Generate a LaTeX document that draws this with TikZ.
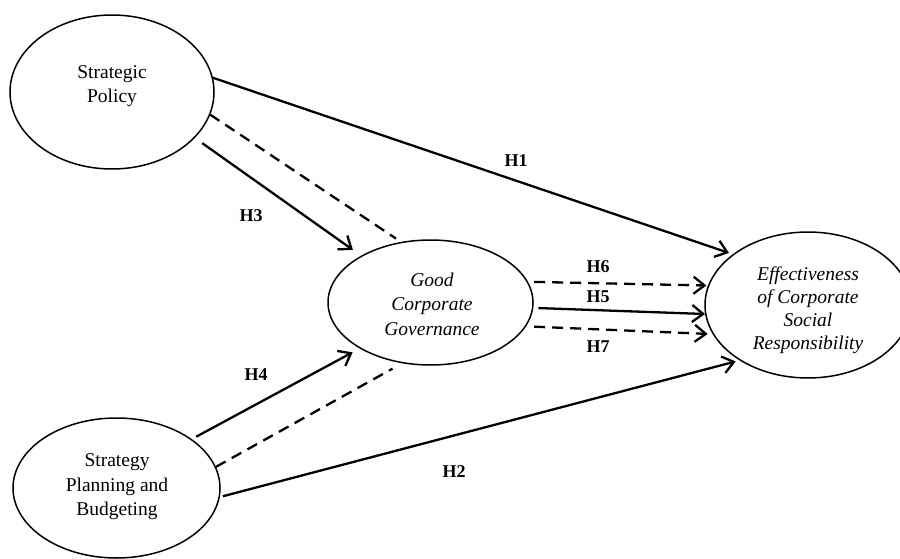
\documentclass[tikz,border=0pt]{standalone}
\usepackage{fontspec}
\setmainfont{Liberation Serif}
\usetikzlibrary{shapes.geometric,arrows.meta}
\begin{document}
\begin{tikzpicture}[x=1pt,y=-1pt,
  latent/.style={draw, ellipse, line width=1.5pt, inner sep=0pt},
  ltext/.style={align=center, font=\fontsize{19.5}{24.5}\selectfont, inner sep=0pt},
  itext/.style={align=center, font=\fontsize{19.5}{24.5}\selectfont\itshape, inner sep=0pt},
  hlabel/.style={font=\fontsize{18}{20}\selectfont\bfseries, inner sep=0pt},
  link/.style={line width=2.3pt},
  arrowlink/.style={link, -{Straight Barb[length=11pt,width=17pt]}},
  dlink/.style={link, dash pattern=on 11pt off 7pt},
]
\clip (0,0) rectangle (900,559);
% latent constructs
\node[latent, minimum width=204pt, minimum height=154pt] (sp) at (112,92) {};
\node[latent, minimum width=207pt, minimum height=140pt] (spb) at (116.5,488) {};
\node[latent, minimum width=205pt, minimum height=125pt] (gcg) at (430.5,302.5) {};
\node[latent, minimum width=206pt, minimum height=146pt] (ec) at (808,305) {};
% texts
\node[ltext] (sptext) at (112,86) {Strategic\\Policy};
\node[ltext] (spbtext) at (117,487) {Strategy\\Planning and\\Budgeting};
\node[itext] (gcgtext) at (432,304) {Good\\Corporate\\Governance};
\node[itext, font=\fontsize{19.5}{23}\selectfont\itshape] (ectext) at (808,310) {Effectiveness\\of Corporate\\Social\\Responsibility};
% connectors
\draw[arrowlink, shorten >=4pt] (sp.8) -- (ec.146);
\draw[dlink, shorten >=6pt] (sp.-13) -- (gcg.116);
\draw[arrowlink, shorten <=9pt, shorten >=10pt] (sp.-29) -- (gcg.146);
\draw[arrowlink, shorten <=5pt, shorten >=8pt] (spb.33) -- (gcg.213);
\draw[dlink, shorten >=11pt] (spb.12) -- (gcg.245);
\draw[arrowlink, shorten <=3pt, shorten >=4pt] (spb.-5) -- (ec.219);
\draw[arrowlink, dlink, shorten <=6pt, shorten >=1.5pt] (gcg.12) -- (ec.169);
\draw[arrowlink, shorten <=5pt] (gcg.-3) -- (ec.185);
\draw[arrowlink, dlink, shorten <=8pt, shorten >=5pt] (gcg.-14) -- (ec.197);
% hypothesis labels
\node[hlabel] (h1) at (516,161) {H1};
\node[hlabel] (h2) at (454,472) {H2};
\node[hlabel] (h3) at (251,216) {H3};
\node[hlabel] (h4) at (256,375) {H4};
\node[hlabel] (h5) at (598,297) {H5};
\node[hlabel] (h6) at (598,267) {H6};
\node[hlabel] (h7) at (598,347) {H7};
\end{tikzpicture}
\end{document}
